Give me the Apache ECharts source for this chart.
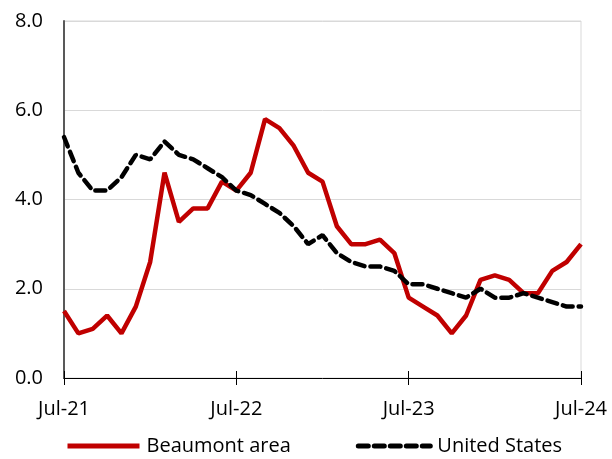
<!DOCTYPE html>
<html>
<head>
<meta charset="utf-8">
<script src="https://cdn.jsdelivr.net/npm/echarts@6/dist/echarts.min.js"></script>
<style>
    html, body { margin: 0; padding: 0; background: #fff; }
    #chart { width: 612px; height: 459px; }
</style>
</head>
<body>
<div id="chart"></div>
<script>
// 月份 Jul-21 .. Jul-24
var months = [
    "Jul-21", "Aug-21", "Sep-21", "Oct-21", "Nov-21", "Dec-21",
    "Jan-22", "Feb-22", "Mar-22", "Apr-22", "May-22", "Jun-22",
    "Jul-22", "Aug-22", "Sep-22", "Oct-22", "Nov-22", "Dec-22",
    "Jan-23", "Feb-23", "Mar-23", "Apr-23", "May-23", "Jun-23",
    "Jul-23", "Aug-23", "Sep-23", "Oct-23", "Nov-23", "Dec-23",
    "Jan-24", "Feb-24", "Mar-24", "Apr-24", "May-24", "Jun-24",
    "Jul-24"
];

var beaumont = [
    1.5, 1.0, 1.1, 1.4, 1.0, 1.6,
    2.6, 4.6, 3.5, 3.8, 3.8, 4.4,
    4.2, 4.6, 5.8, 5.6, 5.2, 4.6,
    4.4, 3.4, 3.0, 3.0, 3.1, 2.8,
    1.8, 1.6, 1.4, 1.0, 1.4, 2.2,
    2.3, 2.2, 1.9, 1.9, 2.4, 2.6,
    3.0
];

var unitedStates = [
    5.4, 4.6, 4.2, 4.2, 4.5, 5.0,
    4.9, 5.3, 5.0, 4.9, 4.7, 4.5,
    4.2, 4.1, 3.9, 3.7, 3.4, 3.0,
    3.2, 2.8, 2.6, 2.5, 2.5, 2.4,
    2.1, 2.1, 2.0, 1.9, 1.8, 2.0,
    1.8, 1.8, 1.9, 1.8, 1.7, 1.6,
    1.6
];

var yTicks = [0, 2, 4, 6, 8];

var fontName = "'Open Sans', sans-serif";

var chart = echarts.init(document.getElementById("chart"));

var option = {
    animation: false,
    grid: {
        left: 64,
        right: 31,
        top: 21,
        bottom: 81,
        show: true,
        borderColor: '#d9d9d9',
        borderWidth: 1
    },
    legend: {
        top: 436,
        left: 65,
        itemWidth: 72,
        itemHeight: 12,
        itemGap: 65,
        padding: 0,
        itemStyle: { opacity: 0 },
        lineStyle: { width: 5 },
        textStyle: {
            fontFamily: fontName,
            fontSize: 20,
            color: '#000',
            padding: [0, 0, 0, 2]
        },
        data: ['Beaumont area', 'United States']
    },
    xAxis: [
        {
            type: 'category',
            data: months,
            boundaryGap: false,
            axisLine: { lineStyle: { color: '#000', width: 1 } },
            axisTick: { interval: 11, length: 7, lineStyle: { color: '#000' } },
            axisLabel: {
                interval: 11,
                fontFamily: fontName,
                fontSize: 20,
                color: '#000',
                margin: 21
            },
            splitLine: { show: false }
        },
        {
            // 刻度线向上的部分
            type: 'category',
            data: months,
            position: 'bottom',
            boundaryGap: false,
            axisLine: { show: false },
            axisTick: { inside: true, interval: 11, length: 7, lineStyle: { color: '#000' } },
            axisLabel: { show: false },
            splitLine: { show: false }
        }
    ],
    yAxis: {
        type: 'value',
        min: yTicks[0],
        max: yTicks[yTicks.length - 1],
        interval: 2,
        axisLine: { show: true, lineStyle: { color: '#595959', width: 2 } },
        axisTick: { show: false },
        axisLabel: {
            fontFamily: fontName,
            fontSize: 20,
            color: '#000',
            margin: 21,
            formatter: function (v) { return v.toFixed(1); }
        },
        splitLine: { lineStyle: { color: '#d9d9d9', width: 1 } }
    },
    series: [
        {
            name: 'Beaumont area',
            type: 'line',
            data: beaumont,
            symbol: 'none',
            lineStyle: { color: '#c00000', width: 4.5 },
            itemStyle: { color: '#c00000' },
            z: 3
        },
        {
            name: 'United States',
            type: 'line',
            data: unitedStates,
            symbol: 'none',
            lineStyle: { color: '#000', width: 4.5, type: [10, 6], cap: 'round' },
            itemStyle: { color: '#000' },
            z: 4
        }
    ]
};

chart.setOption(option);
</script>
</body>
</html>
